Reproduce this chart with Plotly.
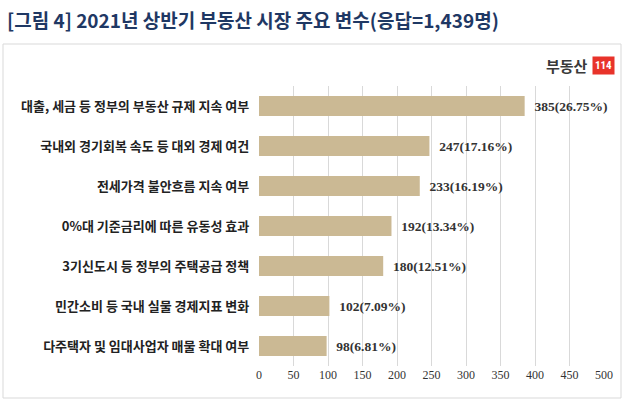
import plotly.graph_objects as go

categories = [
    "대출, 세금 등 정부의 부동산 규제 지속 여부",
    "국내외 경기회복 속도 등 대외 경제 여건",
    "전세가격 불안흐름 지속 여부",
    "0%대 기준금리에 따른 유동성 효과",
    "3기신도시 등 정부의 주택공급 정책",
    "민간소비 등 국내 실물 경제지표 변화",
    "다주택자 및 임대사업자 매물 확대 여부",
]
counts = [385, 247, 233, 192, 180, 102, 98]
shares = [26.75, 17.16, 16.19, 13.34, 12.51, 7.09, 6.81]
tick_vals = [0, 50, 100, 150, 200, 250, 300, 350, 400, 450, 500]

labels = [f"  <b>{c}({s:.2f}%)</b>" for c, s in zip(counts, shares)]
cat_labels = [f"<b>{c}</b>" for c in categories]

fig = go.Figure()
fig.add_trace(go.Bar(
    y=cat_labels, x=counts, orientation="h",
    marker=dict(color="#CBB994", line=dict(width=0)),
    text=labels, textposition="outside",
    textfont=dict(family="Liberation Serif", size=13.5, color="#333333"),
    cliponaxis=False,
))

fig.update_layout(
    width=628, height=404,
    margin=dict(l=259, r=24, t=86, b=38),
    paper_bgcolor="white", plot_bgcolor="white",
    bargap=0.5,
    showlegend=False,
    font=dict(family="Noto Sans CJK KR", size=11, color="#222222"),
    xaxis=dict(range=[0, 500], tickvals=tick_vals, showgrid=True,
               gridcolor="#D9D9D9", gridwidth=1, zeroline=False,
               showline=False, ticks="",
               tickfont=dict(family="Liberation Serif", size=12, color="#333333")),
    yaxis=dict(autorange="reversed", showgrid=False, showline=False,
               ticks="", ticksuffix="   ",
               tickfont=dict(family="Noto Sans CJK KR", size=13, color="#222222")),
    shapes=[dict(type="rect", xref="paper", yref="paper",
                 x0=-256/345, x1=(621-259)/345, y0=-(398-366)/280, y1=(366-44)/280,
                 line=dict(color="#D9D9D9", width=1), layer="below")],
    annotations=[
        dict(text="<b>[그림 4] 2021년 상반기 부동산 시장 주요 변수(응답=1,439명)</b>",
             xref="paper", yref="paper", x=-254/345, y=(366-20)/280,
             xanchor="left", yanchor="middle", showarrow=False,
             font=dict(family="Noto Sans CJK KR", size=19, color="#1F3864")),
        dict(text="<b>부동산</b>", xref="paper", yref="paper",
             x=(590-259)/345, y=(366-65)/280, xanchor="right", yanchor="middle",
             showarrow=False,
             font=dict(family="Noto Sans CJK KR", size=15, color="#3A3A3A")),
        dict(text="<b>114</b>", xref="paper", yref="paper",
             x=(592-259)/345, y=(366-65)/280, xanchor="left", yanchor="middle",
             showarrow=False, bgcolor="#E8332A", borderpad=2,
             font=dict(family="Roboto Condensed, Roboto", size=11, color="white")),
    ],
)

fig.write_html("out.html")
